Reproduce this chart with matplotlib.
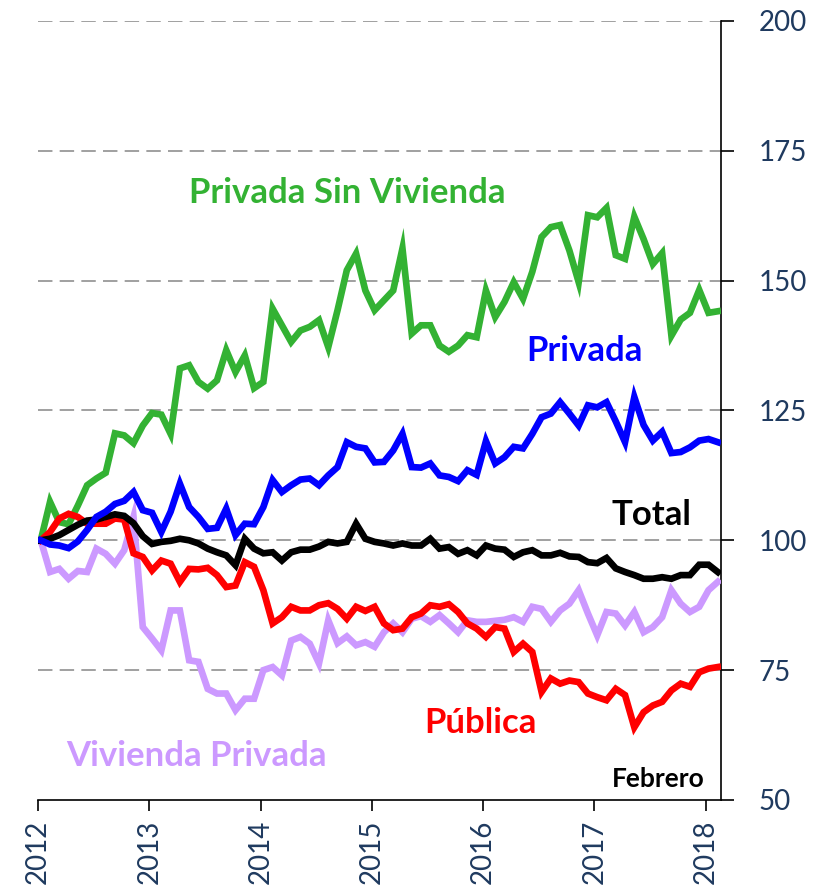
import numpy as np
import matplotlib
matplotlib.use("Agg")
import matplotlib.pyplot as plt

# monthly index, Jan 2012 .. Feb 2018 (base 100)
years = ["2012", "2013", "2014", "2015", "2016", "2017", "2018"]

privada_sin_vivienda = [
    100, 107.4, 103.5, 103.1, 106.7, 110.6, 111.9, 113, 120.6, 120.2, 118.7, 122.1,
    124.5, 124.2, 120.5, 133.1, 133.7, 130.5, 129.2, 130.8, 136.6, 132.4, 135.6, 129.3,
    130.5, 144.6, 141.4, 138.2, 140.4, 141.1, 142.4, 137.2, 144.3, 152, 155.2, 148.1,
    144.3, 146.2, 148.1, 156.2, 139.8, 141.4, 141.4, 137.5, 136.3, 137.5, 139.5, 139.1,
    148.1, 143, 145.9, 149.7, 146.5, 151.7, 158.4, 160.3, 160.7, 155.8, 149.7, 162.6,
    162.2, 164, 154.9, 154.2, 162.3, 158, 153.2, 155.3, 139.4, 142.5, 143.8, 148.2,
    143.8, 144.1]

privada = [
    100, 99.2, 99, 98.5, 99.8, 102, 104.5, 105.5, 107, 107.6, 109.3, 105.8,
    105.3, 101.6, 105.5, 110.9, 106.4, 104.5, 102.2, 102.4, 106.1, 101, 103.2, 103.1,
    106.4, 111.6, 109.3, 110.6, 111.7, 111.9, 110.6, 112.5, 114.1, 118.9, 118, 117.7,
    115, 115.1, 117.3, 120.5, 114.1, 114, 114.8, 112.5, 112.2, 111.4, 113.5, 112.6,
    119.1, 114.8, 116, 118, 117.7, 120.5, 123.7, 124.4, 126.6, 124.4, 122.1, 126,
    125.6, 126.6, 122.9, 118.9, 127.6, 122.2, 119.2, 120.9, 116.8, 117, 117.9, 119.2,
    119.5, 118.9]

total = [
    100, 100.3, 101, 102, 103, 103.8, 104, 104.5, 105, 104.7, 103.3, 100.8,
    99.3, 99.7, 99.9, 100.3, 100, 99.4, 98.4, 97.7, 97.1, 95.2, 100.3, 98.4,
    97.5, 97.7, 96.1, 97.7, 98.2, 98.2, 98.8, 99.7, 99.4, 99.7, 103.2, 100.3,
    99.7, 99.4, 99, 99.4, 99, 99, 100.3, 98.4, 98.7, 97.4, 98.1, 97.1,
    99, 98.4, 98.2, 96.8, 97.7, 98.1, 97.1, 97.1, 97.6, 96.9, 96.8, 95.8,
    95.6, 96.6, 94.6, 93.9, 93.3, 92.6, 92.6, 92.9, 92.6, 93.3, 93.3, 95.3,
    95.3, 93.9]

publica = [
    100, 101.6, 104.2, 105.1, 104.5, 103.2, 103.2, 103.2, 104.2, 104, 97.5, 96.8,
    94.2, 96.1, 95.5, 92, 94.5, 94.4, 94.7, 93.3, 91, 91.3, 95.8, 94.9,
    90.4, 84, 85.2, 87.2, 86.5, 86.5, 87.5, 87.9, 86.8, 84.9, 87.2, 86.4,
    87.2, 84, 82.7, 83, 85.2, 85.9, 87.5, 87.2, 87.7, 86.2, 84, 83,
    81.4, 83.3, 83, 78.5, 80.1, 78.5, 70.8, 73.4, 72.4, 73, 72.7, 70.5,
    69.8, 69.2, 71.4, 70.2, 64, 66.9, 68.2, 68.9, 71.1, 72.4, 71.8, 74.6,
    75.3, 75.6]

vivienda_privada = [
    100, 93.9, 94.5, 92.6, 94.1, 93.9, 98.4, 97.4, 95.5, 98.1, 104.5, 83.3,
    81.1, 78.8, 86.5, 86.5, 76.9, 76.6, 71.4, 70.5, 70.5, 67.3, 69.5, 69.5,
    75, 75.6, 74, 80.7, 81.4, 80.1, 76.3, 84.6, 80.2, 81.5, 79.8, 80.4,
    79.5, 82.3, 84, 82.3, 84.9, 85.4, 84.3, 85.6, 84, 82.3, 84.6, 84.3,
    84.3, 84.5, 84.7, 85.2, 84.3, 87.2, 86.8, 84.3, 86.5, 87.8, 90.4, 85.9,
    81.7, 86.2, 85.9, 83.6, 86.2, 82.3, 83.3, 85.2, 90.4, 87.8, 86.2, 87.2,
    90.4, 92]

series = [
    (privada_sin_vivienda, "#33B233"),
    (vivienda_privada, "#CC99FF"),
    (publica, "#FF0000"),
    (total, "#000000"),
    (privada, "#0000FF"),
]

navy = "#1F3A5F"
plt.rcParams["font.family"] = ["Lato", "DejaVu Sans"]

fig = plt.figure(figsize=(8.15, 8.88), dpi=100)
ax = fig.add_axes([0.0466, 0.0991, 0.8381, 0.8773])

x = np.arange(len(total))
for vals, col in series:
    ax.plot(x, vals, color=col, lw=4.8, solid_joinstyle="miter", zorder=3)

ax.set_ylim(50, 200)
ax.set_xlim(-0.3, 73.35)
for yv in [75, 100, 125, 150, 175, 200]:
    ax.axhline(yv, color="#999999", lw=1.3, ls=(0, (8, 4)), zorder=1)

ax.yaxis.tick_right()
ax.set_yticks([50, 75, 100, 125, 150, 175, 200])
ax.set_xticks([-0.3 + 12 * k for k in range(len(years))])
ax.set_xticklabels(years, rotation=90)
ax.tick_params(axis="y", direction="out", length=9, width=1.2, pad=18,
               labelsize=20, labelcolor=navy)
ax.tick_params(axis="x", direction="out", length=8, width=1.2, pad=6,
               labelsize=20, labelcolor=navy)
for s in ["top", "left"]:
    ax.spines[s].set_visible(False)
for s in ["bottom", "right"]:
    ax.spines[s].set_linewidth(1.2)

lab = dict(ha="center", va="center", fontweight="bold", fontsize=25)
ax.text(33.0, 166.8, "Privada Sin Vivienda", color="#33B233", **lab)
ax.text(58.6, 136.4, "Privada", color="#0000FF", **lab)
ax.text(65.9, 104.8, "Total", color="#000000", **lab)
ax.text(47.4, 64.8, "Pública", color="#FF0000", **lab)
ax.text(16.8, 58.4, "Vivienda Privada", color="#CC99FF", **lab)
ax.text(66.6, 54.1, "Febrero", color="#000000", ha="center", va="center",
        fontweight="bold", fontsize=19)

fig.savefig("out.png", dpi=100)
